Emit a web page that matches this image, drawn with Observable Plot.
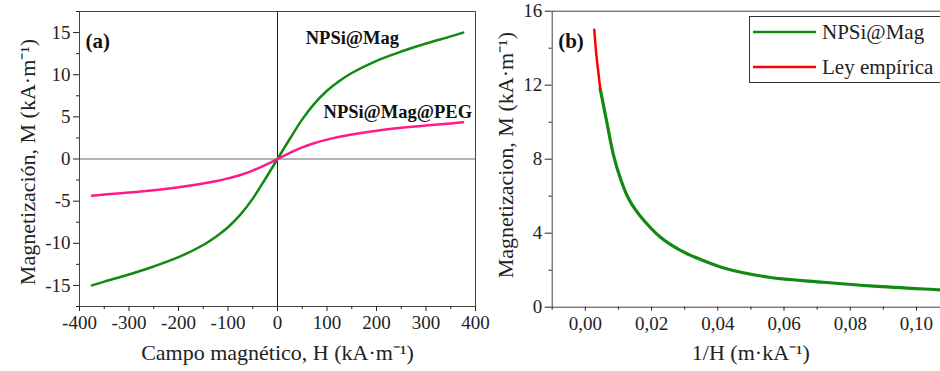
<!DOCTYPE html>
<html><head><meta charset="utf-8">
<script src="https://cdn.jsdelivr.net/npm/d3@7"></script>
<script src="https://cdn.jsdelivr.net/npm/@observablehq/plot@0.6"></script>
<style>
body{margin:0;width:940px;height:371px;overflow:hidden;position:relative;background:#fff;font-family:"Liberation Serif",serif;}
#a,#b,#leg{position:absolute;top:0;}
#a{left:0;} #b{left:480px;} #leg{left:0;}
svg{max-width:none!important;overflow:visible;}
</style></head>
<body>
<div id="a"></div><div id="b"></div>
<svg id="leg" width="940" height="371" style="pointer-events:none"></svg>
<script>
// ---- Panel (a): M vs H ----
const H = [-375,-350,-300,-250,-200,-150,-125,-100,-75,-50,-25,0,25,50,75,100,125,150,200,250,300,350,375];
const M_mag = [-15.0,-14.55,-13.7,-12.75,-11.65,-10.2,-9.25,-8.1,-6.6,-4.7,-2.4,0,2.4,4.7,6.6,8.1,9.25,10.2,11.65,12.75,13.7,14.55,15.0];
const M_peg = [-4.35,-4.22,-3.98,-3.7,-3.35,-2.9,-2.63,-2.3,-1.9,-1.37,-0.72,0,0.72,1.37,1.9,2.3,2.63,2.9,3.35,3.7,3.98,4.22,4.36];
const seriesA = ["NPSi@Mag","NPSi@Mag@PEG"];
const colorsA = ["#118a11","#ff1a8c"];
const labelA = ["NPSi@Mag","NPSi@Mag@PEG"];
const labelAH = [57,93];
const labelAM = [14.4,5.6];
const xMajorA = [-400,-300,-200,-100,0,100,200,300,400];
const xMinorA = [-350,-250,-150,-50,50,150,250,350];
const yMajorA = [-15,-10,-5,0,5,10,15];
const yMinorA = [-17.5,-12.5,-7.5,-2.5,2.5,7.5,12.5,17.5];

// ---- Panel (b): M vs 1/H ----
const invH_mag = [0.0045,0.0066,0.0086,0.0107,0.0127,0.0150,0.0177,0.0227,0.0278,0.0318,0.0348,0.0418,0.0554,0.0720,0.0871,0.1071,0.1100];
const Mb_mag   = [11.8,9.9,8.15,6.9,6.0,5.3,4.69,3.78,3.16,2.8,2.58,2.12,1.62,1.35,1.14,0.94,0.91];
const invH_fit = [0.0027,0.0033,0.0040,0.0045];
const Mb_fit   = [15.0,13.7,12.6,11.8];
const seriesB = ["NPSi@Mag","Ley empírica"];
const colorsB = ["#118a11","#ff0000"];
const xMajorB = [0,0.02,0.04,0.06,0.08,0.10];
const xMinorB = [-0.01,0.01,0.03,0.05,0.07,0.09,0.11];
const yMajorB = [0,4,8,12,16];
const yMinorB = [2,6,10,14];

const FONT = "Liberation Serif";
const dataA = [];
H.forEach((h,i)=>{dataA.push({H:h,M:M_mag[i],s:seriesA[0]}); });
H.forEach((h,i)=>{dataA.push({H:h,M:M_peg[i],s:seriesA[1]}); });
const labelsA = labelA.map((t,i)=>({t,H:labelAH[i],M:labelAM[i]}));

const plotA = Plot.plot({
  width:500, height:371, marginLeft:79, marginRight:25, marginTop:11, marginBottom:65,
  x:{domain:[-400,400]}, y:{domain:[-17.5,17.5]},
  color:{domain:seriesA, range:colorsA},
  style:{fontFamily:FONT, fontSize:"18px", background:"transparent", color:"#222", overflow:"visible"},
  marks:[
    Plot.ruleY([0],{stroke:"#666"}),
    Plot.ruleX([0],{stroke:"#222"}),
    Plot.frame({stroke:"#444"}),
    Plot.axisX(xMajorA,{tickSize:5, tickPadding:4, tickFormat:d=>String(d), label:null, fontSize:19}),
    Plot.axisX(xMinorA,{tickSize:3, tickFormat:()=>"", label:null}),
    Plot.axisY(yMajorA,{tickSize:6, tickPadding:3, tickFormat:d=>String(d), label:null, fontSize:19}),
    Plot.axisY(yMinorA,{tickSize:3, tickFormat:()=>"", label:null}),
    Plot.line(dataA,{x:"H", y:"M", z:"s", stroke:"s", strokeWidth:2.5, curve:"catmull-rom"}),
    Plot.text(labelsA,{x:"H", y:"M", text:"t", textAnchor:"start", fontWeight:"bold", fontSize:18.5, fill:"#111"}),
    Plot.text(["(a)"],{frameAnchor:"top-left", dx:6, dy:22, textAnchor:"start", fontWeight:"bold", fontSize:21, fill:"#111"}),
    Plot.text(["Campo magnético, H (kA·m⁻¹)"],{frameAnchor:"bottom", dy:53, textAnchor:"middle", fontSize:22, fill:"#222"}),
    Plot.text(["Magnetización, M (kA·m⁻¹)"],{frameAnchor:"left", textAnchor:"middle", rotate:-90, dx:-52, dy:3, fontSize:22, fill:"#222"})
  ]
});
document.getElementById("a").append(plotA);

const dataB = [];
invH_mag.forEach((x,i)=>dataB.push({x, M:Mb_mag[i], s:seriesB[0]}));
invH_fit.forEach((x,i)=>dataB.push({x, M:Mb_fit[i], s:seriesB[1]}));

const plotB = Plot.plot({
  width:480, height:371, marginLeft:71.7, marginRight:10.9, marginTop:10.7, marginBottom:64.3,
  x:{domain:[-0.01,0.11]}, y:{domain:[0,16]},
  color:{domain:seriesB, range:colorsB},
  style:{fontFamily:FONT, fontSize:"18px", background:"transparent", color:"#222", overflow:"visible"},
  marks:[
    Plot.frame({stroke:"#444"}),
    Plot.axisX(xMajorB,{tickSize:4, tickPadding:5, tickFormat:d=>d.toFixed(2).replace(".",","), label:null, fontSize:19}),
    Plot.axisX(xMinorB,{tickSize:3, tickFormat:()=>"", label:null}),
    Plot.axisY(yMajorB,{tickSize:7, tickPadding:3, tickFormat:d=>String(d), label:null, fontSize:19}),
    Plot.axisY(yMinorB,{tickSize:3, tickFormat:()=>"", label:null}),
    Plot.line(dataB.filter(d=>d.s===seriesB[0]),{x:"x", y:"M", stroke:"s", strokeWidth:3.2, curve:"catmull-rom"}),
    Plot.line(dataB.filter(d=>d.s===seriesB[1]),{x:"x", y:"M", stroke:"s", strokeWidth:2.5, curve:"catmull-rom"}),
    Plot.text(["(b)"],{frameAnchor:"top-left", dx:6, dy:22, textAnchor:"start", fontWeight:"bold", fontSize:21, fill:"#111"}),
    Plot.text(["1/H (m·kA⁻¹)"],{frameAnchor:"bottom", dy:53, textAnchor:"middle", fontSize:22, fill:"#222"}),
    Plot.text(["Magnetizacion, M (kA·m⁻¹)"],{frameAnchor:"left", textAnchor:"middle", rotate:-90, dx:-46, dy:-4, fontSize:22, fill:"#222"})
  ]
});
document.getElementById("b").append(plotB);

// ---- Legend for panel (b) ----
const leg = d3.select("#leg");
leg.append("rect").attr("x",749.5).attr("y",16.5).attr("width",300).attr("height",66)
  .attr("fill","#fff").attr("stroke","#333").attr("stroke-width",1);
const legY = [32,67];
seriesB.forEach((s,i)=>{
  leg.append("line").attr("x1",753).attr("x2",816).attr("y1",legY[i]).attr("y2",legY[i])
    .attr("stroke",colorsB[i]).attr("stroke-width",2.5);
  leg.append("text").attr("x",822).attr("y",legY[i]).attr("dy","0.35em")
    .attr("font-family",FONT).attr("font-size",21).attr("fill","#222").text(s);
});
</script>
</body></html>
